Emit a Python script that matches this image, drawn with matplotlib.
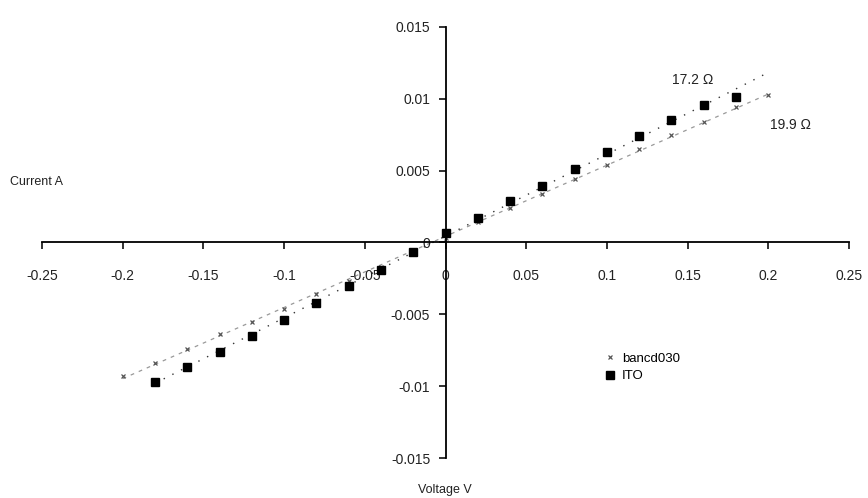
import numpy as np
import matplotlib.pyplot as plt

plt.rcParams['font.family'] = ['Liberation Sans', 'DejaVu Sans']

v_ito = [-0.18, -0.16, -0.14, -0.12, -0.10, -0.08, -0.06, -0.04, -0.02, 0.0,
         0.02, 0.04, 0.06, 0.08, 0.10, 0.12, 0.14, 0.16, 0.18]
i_ito = [-0.0097, -0.0087, -0.0076, -0.0065, -0.0054, -0.0042, -0.0030, -0.0019, -0.00063, 0.00063,
         0.0017, 0.0029, 0.0039, 0.0051, 0.0063, 0.0074, 0.0085, 0.0096, 0.0101]

v_ban = [-0.20, -0.18, -0.16, -0.14, -0.12, -0.10, -0.08, -0.06, -0.04, -0.02, 0.0,
         0.02, 0.04, 0.06, 0.08, 0.10, 0.12, 0.14, 0.16, 0.18, 0.20]
i_ban = [-0.0093, -0.0084, -0.0074, -0.0064, -0.0055, -0.0046, -0.0036, -0.0027, -0.0017, -0.0008, 0.0003,
         0.0014, 0.0024, 0.0034, 0.0044, 0.0054, 0.0065, 0.0075, 0.0084, 0.0094, 0.0103]

xticks = [-0.25, -0.2, -0.15, -0.1, -0.05, 0, 0.05, 0.1, 0.15, 0.2, 0.25]
xlabels = ['-0.25', '-0.2', '-0.15', '-0.1', '-0.05', '0', '0.05', '0.1', '0.15', '0.2', '0.25']
yticks = [-0.015, -0.01, -0.005, 0, 0.005, 0.01, 0.015]
ylabels = ['-0.015', '-0.01', '-0.005', '0', '0.005', '0.01', '0.015']

fig = plt.figure(figsize=(8.68, 4.98), dpi=100)
ax = fig.add_axes([42/868, 40/498, 807/868, 431/498])

# linear trendlines
p_ban = np.polyfit(v_ban, i_ban, 1)
xb = np.array([min(v_ban), max(v_ban)])
ax.plot(xb, np.polyval(p_ban, xb), color='#999999', lw=0.9, ls=(0, (3, 4)), zorder=1)
p_ito = np.polyfit(v_ito, i_ito, 1)
xi = np.array([min(v_ito), max(v_ban)])
ax.plot(xi, np.polyval(p_ito, xi), color='#333333', lw=1.0, ls=(0, (1, 6)), zorder=1)

ax.plot(v_ban, i_ban, ls='none', marker='x', ms=3.5, mew=0.9, color='#555555',
        label='bancd030', zorder=2)
ax.plot(v_ito, i_ito, ls='none', marker='s', ms=5.5, color='black',
        label='ITO', zorder=3)

ax.set_xlim(-0.25, 0.25)
ax.set_ylim(-0.015, 0.015)
ax.set_xticks(xticks)
ax.set_xticklabels(xlabels)
ax.set_yticks(yticks)
ax.set_yticklabels(ylabels)

ax.spines['left'].set_position(('data', 0))
ax.spines['bottom'].set_position(('data', 0))
ax.spines['top'].set_visible(False)
ax.spines['right'].set_visible(False)
for s in ('left', 'bottom'):
    ax.spines[s].set_linewidth(1.3)
ax.tick_params(direction='out', length=5, width=1.3, labelsize=10, colors='#222222')
ax.tick_params(axis='x', pad=14)
ax.tick_params(axis='y', pad=6)
ax.patch.set_alpha(0)

fig.text(10/868, 1 - 182/498, 'Current A', fontsize=9, color='#222222', va='center')
fig.text(445/868, 1 - 490/498, 'Voltage V', fontsize=9, color='#222222', ha='center', va='center')
fig.text(693/868, 1 - 80/498, '17.2 Ω', fontsize=10, color='#222222', ha='center', va='center')
fig.text(790/868, 1 - 125/498, '19.9 Ω', fontsize=10, color='#222222', ha='center', va='center')

ax.legend(loc='upper left', bbox_to_anchor=(598/868, 1 - 346/498), bbox_transform=fig.transFigure,
          frameon=False, fontsize=9.5, handlelength=0.8, handletextpad=0.5,
          labelspacing=0.4, borderpad=0)

fig.savefig('out.png', dpi=100)
